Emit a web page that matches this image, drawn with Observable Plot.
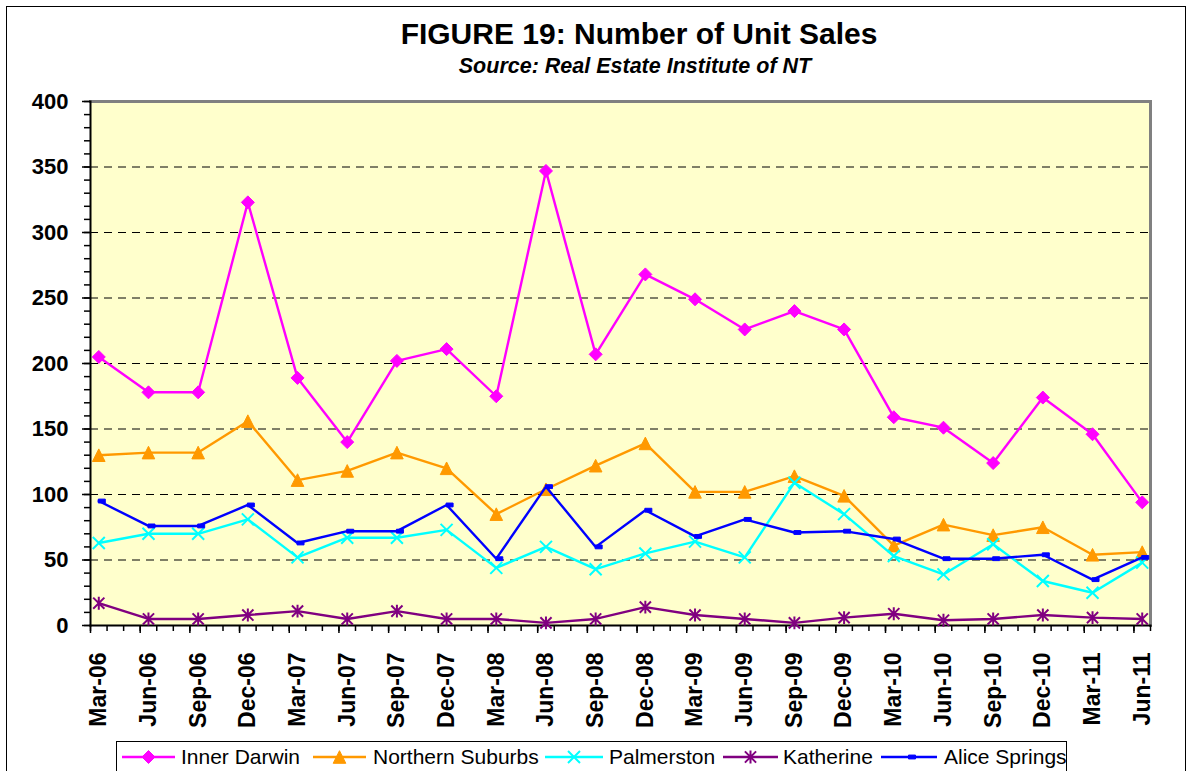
<!DOCTYPE html>
<html>
<head>
<meta charset="utf-8">
<script src="https://cdn.jsdelivr.net/npm/d3@7"></script>
<script src="https://cdn.jsdelivr.net/npm/@observablehq/plot@0.6"></script>
<style>
  html, body { margin: 0; padding: 0; background: #fff; }
  body { width: 1188px; height: 771px; overflow: hidden; position: relative; font-family: Arial, "Liberation Sans", sans-serif; }
  #border { position: absolute; left: 6px; top: 6px; width: 1180px; height: 820px; border: 1px solid #000; box-sizing: border-box; }
  #title { position: absolute; left: 239px; width: 800px; top: 19px; text-align: center; font-size: 30px; font-weight: bold; line-height: 1; color: #000; }
  #subtitle { position: absolute; left: 235px; width: 800px; top: 56px; text-align: center; font-size: 21.5px; font-weight: bold; font-style: italic; line-height: 1; color: #000; }
  #chart { position: absolute; left: 0; top: 90px; }
  #legend { position: absolute; left: 0; top: 730px; }
</style>
</head>
<body>
<div id="border"></div>
<div id="title">FIGURE 19: Number of Unit Sales</div>
<div id="subtitle">Source: Real Estate Institute of NT</div>
<div id="chart"></div>
<div id="legend"></div>
<script>
// ---- Data ----
const quarters = ["Mar-06","Jun-06","Sep-06","Dec-06","Mar-07","Jun-07","Sep-07","Dec-07",
  "Mar-08","Jun-08","Sep-08","Dec-08","Mar-09","Jun-09","Sep-09","Dec-09",
  "Mar-10","Jun-10","Sep-10","Dec-10","Mar-11","Jun-11"];
const seriesNames = ["Inner Darwin","Northern Suburbs","Palmerston","Katherine","Alice Springs"];
const seriesColors = ["#FF00FF","#FF9900","#00FFFF","#800080","#0000FF"];
const innerDarwin = [205,178,178,323,189,140,202,211,175,347,207,268,249,226,240,226,159,151,124,174,146,94];
const northernSuburbs = [130,132,132,156,111,118,132,120,85,104,122,139,102,102,114,99,61,77,69,75,54,56];
const palmerston = [63,70,70,81,52,67,67,73,44,60,43,55,64,52,109,85,53,39,62,34,25,48];
const katherine = [17,5,5,8,11,5,11,5,5,2,5,14,8,5,2,6,9,4,5,8,6,5];
const aliceSprings = [95,76,76,92,63,72,72,92,51,106,60,88,68,81,71,72,66,51,51,54,35,52];
const yTicks = [0,50,100,150,200,250,300,350,400];
const gridValues = [50,100,150,200,250,300,350];

const allValues = [innerDarwin, northernSuburbs, palmerston, katherine, aliceSprings];
// month index: each quarter is 3 months apart
const rows = [];
seriesNames.forEach((s, k) => {
  allValues[k].forEach((v, i) => rows.push({series: s, month: i * 3, label: quarters[i], value: v}));
});
const bySeries = name => rows.filter(d => d.series === name);

// ---- Excel-like marker symbols ----
const rad = size => Math.sqrt(size / Math.PI);
const symDiamond = {draw(c, size){ const r = rad(size); c.moveTo(0,-r); c.lineTo(r,0); c.lineTo(0,r); c.lineTo(-r,0); c.closePath(); }};
const symTriangle = {draw(c, size){ const r = rad(size); c.moveTo(0,-r); c.lineTo(r,r); c.lineTo(-r,r); c.closePath(); }};
const symCross = {draw(c, size){ const r = rad(size); c.moveTo(-r,-r); c.lineTo(r,r); c.moveTo(r,-r); c.lineTo(-r,r); }};
const symStar = {draw(c, size){ const r = rad(size); c.moveTo(-r,-r); c.lineTo(r,r); c.moveTo(r,-r); c.lineTo(-r,r); c.moveTo(0,-r*1.15); c.lineTo(0,r*1.15); }};
const symDash = {draw(c, size){ const r = rad(size); c.rect(-0.5, -r*0.55, r*2, r*1.1); }};

const markerSpec = [
  {symbol: symDiamond, r: 6.5, fill: true},
  {symbol: symTriangle, r: 6.3, fill: true},
  {symbol: symCross, r: 6, fill: false},
  {symbol: symStar, r: 5.6, fill: false},
  {symbol: symDash, r: 3.5, fill: true}
];

const font = "Arial, 'Liberation Sans', sans-serif";

const marks = [
  Plot.frame({fill: "#FFFFCC", stroke: null}),
  Plot.ruleY(gridValues, {stroke: "#000", strokeWidth: 1, strokeDasharray: "8,6"}),
  Plot.frame({anchor: "top", stroke: "#808080", strokeWidth: 3}),
  Plot.frame({anchor: "right", stroke: "#808080", strokeWidth: 3}),
  // y axis ticks and labels
  Plot.axisY({ticks: d3.range(0, 401, 10), tickSize: 6, fill: "none", stroke: "#000", strokeWidth: 1.5, label: null}),
  Plot.axisY({ticks: yTicks, tickSize: 8, fill: "none", stroke: "#000", strokeWidth: 1.5, label: null}),
  Plot.axisY({ticks: yTicks, tickSize: 0, tickPadding: 22, fontSize: 22, fontWeight: "bold", fill: "#000", label: null}),
  // x axis ticks and labels
  Plot.axisX({ticks: d3.range(-0.5, 64, 1), tickSize: 6, fill: "none", stroke: "#000", strokeWidth: 1.5, label: null}),
  Plot.axisX({ticks: d3.range(-0.5, 64, 3), tickSize: 8, fill: "none", stroke: "#000", strokeWidth: 1.5, label: null}),
  Plot.axisX({ticks: quarters.map((q, i) => i * 3), tickFormat: m => quarters[m / 3], tickRotate: -90,
    tickSize: 0, tickPadding: 27, fontSize: 23, fontWeight: "bold", fill: "#000", label: null}),
  Plot.frame({anchor: "left", stroke: "#000", strokeWidth: 2}),
  Plot.frame({anchor: "bottom", stroke: "#000", strokeWidth: 2})
];

seriesNames.forEach((s, k) => {
  const data = bySeries(s);
  marks.push(Plot.line(data, {x: "month", y: "value", stroke: "series", strokeWidth: 2.4, strokeLinejoin: "miter"}));
  const m = markerSpec[k];
  marks.push(Plot.dot(data, {
    x: "month", y: "value", symbol: m.symbol, r: m.r,
    fill: m.fill ? "series" : "none", stroke: "series", strokeWidth: m.fill ? 1 : 2
  }));
});

const chart = Plot.plot({
  width: 1188,
  height: 650,
  marginTop: 11,
  marginBottom: 115,
  marginLeft: 90,
  marginRight: 38,
  style: {fontFamily: font, background: "transparent", overflow: "visible", color: "#000"},
  x: {domain: [-0.5, 63.5], axis: null},
  y: {domain: [0, 400], axis: null},
  color: {domain: seriesNames, range: seriesColors},
  marks
});
document.getElementById("chart").appendChild(chart);

// ---- Legend ----
const legendItems = [
  {x0: 122, x1: 175, tx: 181},
  {x0: 313, x1: 366, tx: 373},
  {x0: 545, x1: 603, tx: 609},
  {x0: 723, x1: 778, tx: 783},
  {x0: 881, x1: 937, tx: 944}
];
const lg = d3.select("#legend").append("svg").attr("width", 1188).attr("height", 41)
  .style("font-family", font);
lg.append("rect").attr("x", 116.5).attr("y", 11.5).attr("width", 950).attr("height", 60)
  .attr("fill", "#fff").attr("stroke", "#000").attr("stroke-width", 1);
const ly = 27;
seriesNames.forEach((s, k) => {
  const it = legendItems[k];
  const col = seriesColors[k];
  lg.append("line").attr("x1", it.x0).attr("x2", it.x1).attr("y1", ly).attr("y2", ly)
    .attr("stroke", col).attr("stroke-width", 2.4);
  const cx = (it.x0 + it.x1) / 2;
  const m = markerSpec[k];
  const p = d3.path();
  m.symbol.draw(p, Math.PI * m.r * m.r);
  lg.append("path").attr("d", p.toString()).attr("transform", `translate(${cx},${ly})`)
    .attr("fill", m.fill ? col : "none").attr("stroke", col).attr("stroke-width", m.fill ? 1 : 2);
  lg.append("text").attr("x", it.tx).attr("y", 33.5).attr("font-size", 21).attr("fill", "#000")
    .text(s);
});
</script>
</body>
</html>
